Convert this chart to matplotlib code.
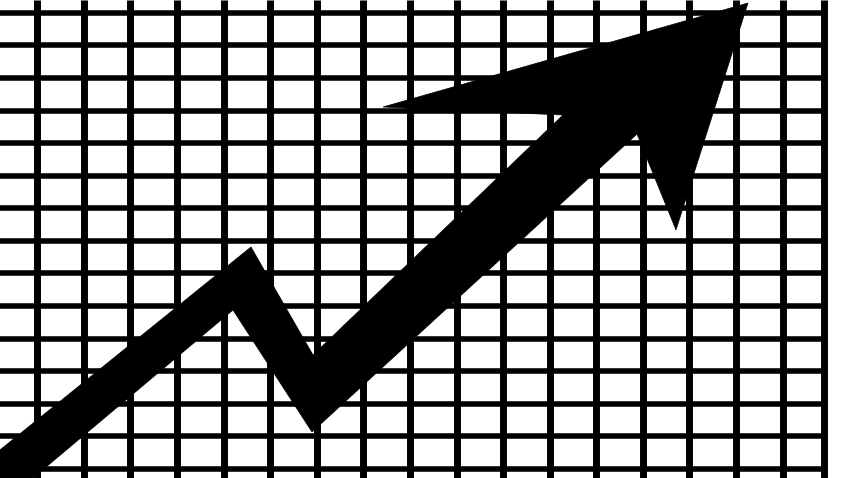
import matplotlib
matplotlib.use("Agg")
import matplotlib.pyplot as plt
from matplotlib.patches import Polygon

# grid positions (pixels, y measured from top)
grid_x = [37, 84, 130, 177, 224, 270, 317, 363, 410, 457, 503, 550, 596, 643, 689, 736, 783]
grid_y = [13, 45, 78, 111, 143, 176, 208, 241, 273, 306, 339, 371, 404, 436, 469]
border_x = 824

# zig-zag arrow outline
arrow_x = [-10, 251, 313, 563, 383, 748, 676, 637, 312, 233, 33, -10]
arrow_y = [458, 247, 355, 115, 107, 3, 230, 134, 432, 310, 478, 515]

fig = plt.figure(figsize=(8.5, 4.78), dpi=100)
ax = fig.add_axes([0, 0, 1, 1])
ax.set_xlim(0, 850)
ax.set_ylim(478, 0)
ax.axis('off')

ax.hlines(grid_y, 0, border_x, colors='black', linewidth=4.0)
ax.vlines(grid_x, 0, 478, colors='black', linewidth=5.0)
ax.vlines([border_x], 0, 478, colors='black', linewidth=5.0)

ax.add_patch(Polygon(list(zip(arrow_x, arrow_y)), closed=True,
                     facecolor='black', edgecolor='black', linewidth=0.5, zorder=3))

fig.savefig("out.png", dpi=100, facecolor='white')
